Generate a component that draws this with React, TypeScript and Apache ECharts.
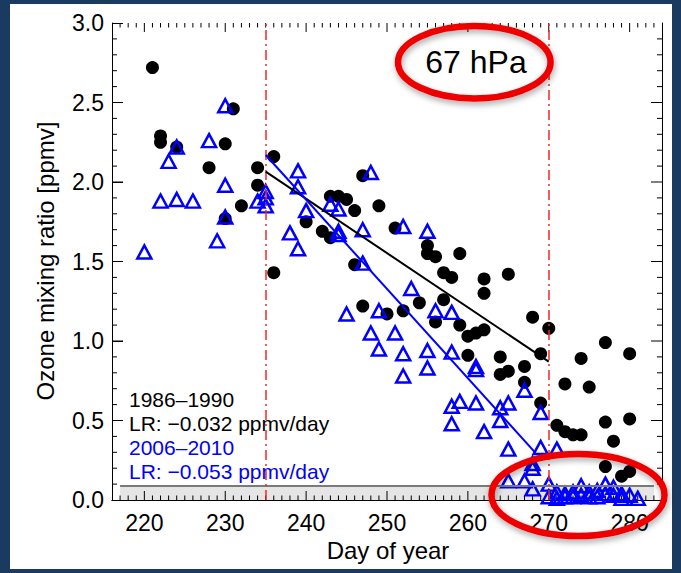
import React, { useEffect, useRef } from "react";
import * as echarts from "echarts";

// ---- data ----
const X_MIN = 216;
const X_MAX = 284;
const Y_MIN = 0;
const Y_MAX = 3;
const xMajorTicks = [220, 230, 240, 250, 260, 270, 280];

// 1986–1990 (black circles): [day, ppmv]
const black1986: number[][] = [
  [221, 2.72], [222, 2.29], [222, 2.25], [224, 2.22], [228, 2.09],
  [230, 2.24], [230, 1.77], [231, 2.46], [232, 1.85], [234, 2.09], [234, 1.98],
  [236, 2.16], [236, 1.43], [240, 1.75], [242, 1.69], [243, 1.91], [243, 1.65],
  [244, 1.91], [245, 1.89], [246, 1.82], [246, 1.48], [247, 2.04], [247, 1.22],
  [249, 1.85], [250, 1.17], [251, 1.71], [252, 1.19], [254, 1.24],
  [255, 1.6], [255, 1.55], [256, 1.53], [256, 1.12], [257, 1.43], [257, 1.26],
  [258, 1.4], [259, 1.55], [259, 1.1], [260, 1.03], [260, 0.91], [261, 1.05],
  [262, 1.39], [262, 1.3], [262, 1.07], [264, 0.9], [264, 0.79], [265, 1.42],
  [265, 0.81], [267, 0.84], [267, 0.74], [268, 1.15], [269, 0.92], [269, 0.61],
  [270, 1.08], [271, 0.47], [272, 0.73], [272, 0.43], [273, 0.41], [274, 0.89],
  [274, 0.41], [275, 0.71], [277, 0.99], [277, 0.49], [277, 0.21], [278, 0.37],
  [279, 0.15], [280, 0.92], [280, 0.51], [280, 0.18],
];

// 2006–2010 (blue triangles): [day, ppmv]
const blue2006: number[][] = [
  [220, 1.56], [222, 1.88], [223, 2.13], [224, 2.22], [224, 1.89], [226, 1.88],
  [228, 2.26], [229, 1.63], [230, 2.48], [230, 1.98], [230, 1.78], [234, 1.88],
  [235, 1.94], [235, 1.9], [235, 1.85], [238, 1.68], [239, 2.07], [239, 1.97],
  [239, 1.58], [240, 1.82], [243, 1.86], [244, 1.83], [244, 1.69], [244, 1.67],
  [245, 1.17], [247, 1.7], [247, 1.49], [248, 2.06], [248, 1.05], [249, 1.19],
  [249, 0.95], [251, 1.05], [252, 1.72], [252, 0.92], [252, 0.78], [253, 1.33],
  [255, 1.69], [255, 0.94], [255, 0.83], [256, 1.19], [258, 1.18], [258, 0.93],
  [258, 0.59], [258, 0.48], [259, 0.62], [261, 0.84], [261, 0.82], [261, 0.61],
  [262, 0.43], [264, 0.58], [264, 0.5], [265, 0.61], [265, 0.32], [265, 0.12],
  [267, 0.69], [267, 0.12], [268, 0.23], [268, 0.2], [268, 0.07], [269, 0.55],
  [269, 0.33], [270, 0.1], [270, 0.02], [271, 0.32], [271, 0.05], [271, 0.01],
  [272, 0.04], [272, 0.02], [273, 0.05], [273, 0.02], [274, 0.09], [274, 0.03],
  [275, 0.05], [275, 0.02], [276, 0.06], [276, 0.02], [277, 0.1], [277, 0.04],
  [278, 0.08], [278, 0.03], [279, 0.04], [279, 0.01], [280, 0.03], [281, 0.01],
];

// linear regressions
const blackFit: number[][] = [[235, 2.065], [270, 0.87]];
const blueFit: number[][] = [[235, 2.17], [268.3, 0.3]];

// reference lines
const periodBounds = [235, 270];
const noiseLevel = 0.09;
const bandRange = [217, 283];

const legendLines = [
  { text: "1986\u20131990", color: "#000000" },
  { text: "LR: \u22120.032 ppmv/day", color: "#000000" },
  { text: "2006\u20132010", color: "#0000ff" },
  { text: "LR: \u22120.053 ppmv/day", color: "#0000ff" },
];

const FONT = '"Liberation Sans", Arial, Helvetica, sans-serif';

export default function App() {
  const ref = useRef<HTMLDivElement>(null);

  useEffect(() => {
    document.body.style.margin = "0";
    if (!ref.current) return;
    const chart = echarts.init(ref.current, undefined, { renderer: "svg" });

    // tick specs: [kind (0 = x, 1 = y), value, length]
    const tickSpecs: number[][] = [];
    for (let d = X_MIN + 1; d < X_MAX; d++) {
      tickSpecs.push([0, d, d % 10 === 0 ? 9 : 4.5]);
    }
    for (let k = 1; k < 30; k++) {
      const v = k / 10;
      tickSpecs.push([1, v, k % 5 === 0 ? 11 : 5]);
    }

    const baseX = {
      type: "value" as const,
      min: X_MIN,
      max: X_MAX,
      splitLine: { show: false },
    };
    const baseY = {
      type: "value" as const,
      min: Y_MIN,
      max: Y_MAX,
      interval: 0.5,
      splitLine: { show: false },
      minorSplitLine: { show: false },
    };

    const option: any = {
      animation: false,
      backgroundColor: "transparent",
      grid: { left: 112, right: 19, top: 23, bottom: 73, containLabel: false },
      xAxis: [
        {
          ...baseX,
          position: "bottom",
          axisLine: { show: true, lineStyle: { color: "#000", width: 1 } },
          axisTick: { show: true, inside: true, length: 9, customValues: xMajorTicks, lineStyle: { color: "#000", width: 1 } },
          axisLabel: { show: true, customValues: xMajorTicks, fontSize: 23, fontFamily: FONT, color: "#000", margin: 11 },
        },
        {
          ...baseX,
          position: "top",
          axisLine: { show: true, lineStyle: { color: "#000", width: 1 } },
          axisTick: { show: false },
          axisLabel: { show: false },
        },
      ],
      yAxis: [
        {
          ...baseY,
          position: "left",
          axisLine: { show: true, lineStyle: { color: "#000", width: 1 } },
          axisTick: { show: true, inside: true, length: 11, lineStyle: { color: "#000", width: 1 } },
          axisLabel: {
            show: true, fontSize: 23, fontFamily: FONT, color: "#000", margin: 8,
            formatter: (v: number) => v.toFixed(1),
          },
        },
        {
          ...baseY,
          position: "right",
          axisLine: { show: true, lineStyle: { color: "#000", width: 1 } },
          axisTick: { show: false },
          axisLabel: { show: false },
        },
      ],
      series: [
        {
          type: "scatter",
          data: [],
          xAxisIndex: 0,
          yAxisIndex: 0,
          silent: true,
          z: 1,
          markArea: {
            silent: true,
            itemStyle: { color: "#e5e5e5" },
            data: [[{ coord: [bandRange[0], 0] }, { coord: [bandRange[1], noiseLevel] }]],
          },
          markLine: {
            silent: true,
            symbol: ["none", "none"],
            label: { show: false },
            lineStyle: { color: "#7a7a7a", width: 2, type: "solid" },
            data: [[{ coord: [bandRange[0], noiseLevel] }, { coord: [bandRange[1], noiseLevel] }]],
          },
        },
        {
          type: "scatter",
          data: [],
          xAxisIndex: 0,
          yAxisIndex: 0,
          silent: true,
          z: 1,
          markLine: {
            silent: true,
            symbol: ["none", "none"],
            label: { show: false },
            lineStyle: { color: "#f02828", width: 1.5, type: [10, 4, 2, 4] },
            data: periodBounds.map((d) => ({ xAxis: d })),
          },
        },
        {
          // inward tick marks on all four sides, placed through the axes' scales
          type: "custom",
          data: tickSpecs,
          xAxisIndex: 0,
          yAxisIndex: 0,
          silent: true,
          clip: false,
          z: 2,
          encode: { x: 1, y: 1 },
          renderItem: (params: any, api: any) => {
            const kind = api.value(0);
            const v = api.value(1);
            const len = api.value(2);
            const style = { stroke: "#000", lineWidth: 1 };
            if (kind === 0) {
              const b = api.coord([v, Y_MIN]);
              const t = api.coord([v, Y_MAX]);
              return {
                type: "group",
                children: [
                  { type: "line", shape: { x1: b[0], y1: b[1], x2: b[0], y2: b[1] - len }, style },
                  { type: "line", shape: { x1: t[0], y1: t[1], x2: t[0], y2: t[1] + len }, style },
                ],
              };
            }
            const l = api.coord([X_MIN, v]);
            const r = api.coord([X_MAX, v]);
            return {
              type: "group",
              children: [
                { type: "line", shape: { x1: l[0], y1: l[1], x2: l[0] + len, y2: l[1] }, style },
                { type: "line", shape: { x1: r[0], y1: r[1], x2: r[0] - len, y2: r[1] }, style },
              ],
            };
          },
        },
        {
          name: "1986-1990",
          type: "scatter",
          data: black1986,
          xAxisIndex: 0,
          yAxisIndex: 0,
          symbol: "circle",
          symbolSize: 13,
          itemStyle: { color: "#000000", opacity: 1 },
          z: 3,
        },
        {
          name: "2006-2010",
          type: "scatter",
          data: blue2006,
          xAxisIndex: 0,
          yAxisIndex: 0,
          symbol: "triangle",
          symbolSize: [14, 13],
          itemStyle: { color: "rgba(0,0,0,0)", borderColor: "#0000ff", borderWidth: 2.5, opacity: 1 },
          z: 4,
        },
        {
          type: "line",
          data: blackFit,
          xAxisIndex: 0,
          yAxisIndex: 0,
          showSymbol: false,
          symbol: "none",
          lineStyle: { color: "#000000", width: 2 },
          z: 5,
        },
        {
          type: "line",
          data: blueFit,
          xAxisIndex: 0,
          yAxisIndex: 0,
          showSymbol: false,
          symbol: "none",
          lineStyle: { color: "#0000ff", width: 2 },
          z: 5,
        },
      ],
      graphic: [
        ...legendLines.map((l, i) => ({
          type: "text",
          x: 129,
          y: 399 + i * 24,
          z: 10,
          style: { text: l.text, fill: l.color, font: `21px ${FONT}`, align: "left", verticalAlign: "middle" },
        })),
        {
          type: "text",
          x: 476,
          y: 62,
          z: 10,
          style: { text: "67 hPa", fill: "#000", font: `32px ${FONT}`, align: "center", verticalAlign: "middle" },
        },
        {
          type: "text",
          x: 388,
          y: 550,
          z: 10,
          style: { text: "Day of year", fill: "#000", font: `24px ${FONT}`, align: "center", verticalAlign: "middle" },
        },
        {
          type: "text",
          x: 45,
          y: 261,
          rotation: Math.PI / 2,
          z: 10,
          style: { text: "Ozone mixing ratio [ppmv]", fill: "#000", font: `24px ${FONT}`, align: "center", verticalAlign: "middle" },
        },
        {
          type: "ellipse",
          z: 20,
          shape: { cx: 474.3, cy: 62.2, rx: 76.3, ry: 36.2 },
          style: {
            fill: "none", stroke: "#ee0000", lineWidth: 6.5,
            shadowBlur: 6, shadowColor: "rgba(0,0,0,0.35)", shadowOffsetX: 1, shadowOffsetY: 3,
          },
        },
        {
          type: "ellipse",
          z: 20,
          shape: { cx: 578, cy: 495, rx: 86.5, ry: 41 },
          style: {
            fill: "none", stroke: "#ee0000", lineWidth: 6.5,
            shadowBlur: 6, shadowColor: "rgba(0,0,0,0.35)", shadowOffsetX: 1, shadowOffsetY: 3,
          },
        },
      ],
    };

    chart.setOption(option);
    return () => chart.dispose();
  }, []);

  return (
    <div style={{ position: "relative", width: 681, height: 573, background: "#1b3a5f", overflow: "hidden" }}>
      <div style={{ position: "absolute", left: 10, top: 4, width: 662, height: 565, background: "#ffffff" }} />
      <div ref={ref} style={{ position: "absolute", left: 0, top: 0, width: 681, height: 573 }} />
    </div>
  );
}
